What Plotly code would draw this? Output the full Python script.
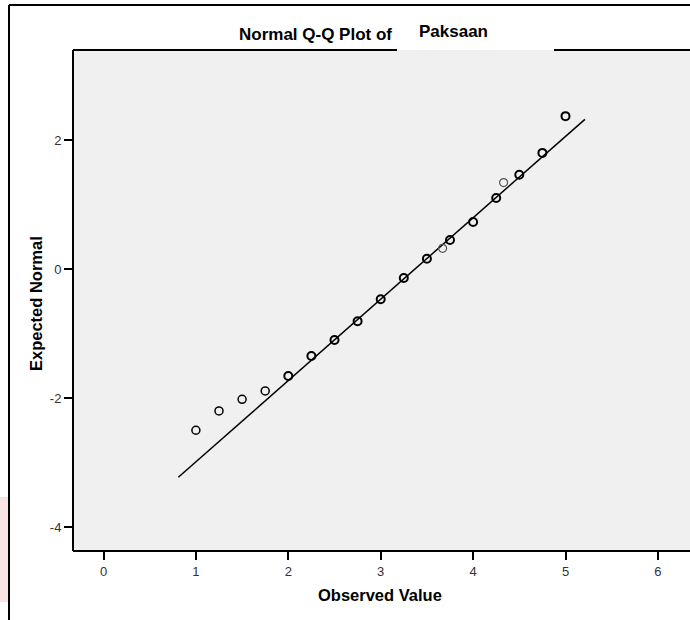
import plotly.graph_objects as go

# ---- data ----
observed = [1.00, 1.25, 1.50, 1.75, 2.00, 2.25, 2.50, 2.75, 3.00, 3.25,
            3.50, 3.67, 3.75, 4.00, 4.25, 4.33, 4.50, 4.75, 5.00]
expected = [-2.50, -2.20, -2.02, -1.89, -1.66, -1.35, -1.10, -0.81, -0.47, -0.14,
            0.16, 0.32, 0.45, 0.73, 1.10, 1.34, 1.46, 1.80, 2.37]
# how heavy each circle looks (overplotted ties look darker)
weight = [2, 2, 2, 2, 3, 3, 3, 3, 3, 3,
          3, 1, 3, 3, 3, 1, 3, 3, 3]
line_mean = 3.371
line_sd = 0.793
line_x = [0.81, 5.21]
x_ticks = [0, 1, 2, 3, 4, 5, 6]
y_ticks = [-4, -2, 0, 2]
title_text = "Normal Q-Q Plot of"
variable_name = "Paksaan"
x_title = "Observed Value"
y_title = "Expected Normal"

# ---- geometry ----
W, H = 690, 620
L, T, B = 73, 50, 551  # plot area pixel edges
R = 690
PW, PH = R - L, B - T


def px(xp):
    return (xp - L) / PW


def py(yp):
    return (B - yp) / PH


FONT = "Arial, Liberation Sans, Helvetica, sans-serif"

line_y = [(v - line_mean) / line_sd for v in line_x]
colors = ["#555555" if w == 1 else "#000000" for w in weight]
widths = [1.2 if w == 1 else (1.5 if w == 2 else 2.0) for w in weight]

fig = go.Figure()
fig.add_trace(go.Scatter(x=line_x, y=line_y, mode="lines",
                         line=dict(color="black", width=1.5),
                         hoverinfo="skip", showlegend=False))
fig.add_trace(go.Scatter(x=observed, y=expected, mode="markers",
                         marker=dict(symbol="circle-open", size=8,
                                     color=colors,
                                     line=dict(color=colors, width=widths)),
                         showlegend=False))

fig.update_layout(
    width=W, height=H,
    margin=dict(l=L, r=W - R, t=T, b=H - B, pad=0),
    paper_bgcolor="white",
    plot_bgcolor="#f0f0f0",
    font=dict(family=FONT, color="#222222"),
    xaxis=dict(range=[(L - 103.5) / 92.4, (R - 103.5) / 92.4],
               tickvals=x_ticks, ticktext=[str(v) for v in x_ticks],
               ticks="outside", ticklen=8, tickwidth=2, tickcolor="black",
               showgrid=False, zeroline=False, showline=False,
               tickfont=dict(size=13, color="#333333")),
    yaxis=dict(range=[(269 - B) / 64.5, (269 - T) / 64.5],
               tickvals=y_ticks, ticktext=[str(v) for v in y_ticks],
               ticks="outside", ticklen=8, tickwidth=2, tickcolor="black",
               showgrid=False, zeroline=False, showline=False,
               tickfont=dict(size=13, color="#333333")),
)

shapes = []
# plot border (top border interrupted behind the variable label)
bw = 2
shapes.append(dict(type="line", xref="paper", yref="paper", x0=0, x1=0, y0=0, y1=1,
                   line=dict(color="black", width=bw)))
shapes.append(dict(type="line", xref="paper", yref="paper", x0=0, x1=1, y0=0, y1=0,
                   line=dict(color="black", width=bw)))
shapes.append(dict(type="line", xref="paper", yref="paper", x0=0, x1=px(397), y0=1, y1=1,
                   line=dict(color="black", width=bw)))
shapes.append(dict(type="line", xref="paper", yref="paper", x0=px(554), x1=1, y0=1, y1=1,
                   line=dict(color="black", width=bw)))
# outer frame
shapes.append(dict(type="line", xref="paper", yref="paper", x0=px(9), x1=px(9),
                   y0=py(5), y1=py(622), line=dict(color="black", width=2)))
shapes.append(dict(type="line", xref="paper", yref="paper", x0=px(9), x1=px(692),
                   y0=py(5), y1=py(5), line=dict(color="black", width=2)))
# faint pink mark at the far left
shapes.append(dict(type="rect", xref="paper", yref="paper", x0=px(0), x1=px(8),
                   y0=py(602), y1=py(497), line=dict(width=0), fillcolor="#f8e3e5",
                   layer="below"))
fig.update_layout(shapes=shapes)

ann = [
    dict(text=f"<b>{title_text}</b>", x=px(315), y=py(34), xanchor="center", yanchor="middle",
         font=dict(size=17, color="black", family=FONT)),
    dict(text=f"<b>{variable_name}</b>", x=px(417), y=py(32), xanchor="left", yanchor="middle",
         font=dict(size=17, color="black", family=FONT)),
    dict(text=f"<b>{x_title}</b>", x=px(380), y=py(595), xanchor="center", yanchor="middle",
         font=dict(size=16.5, color="black", family=FONT)),
    dict(text=f"<b>{y_title}</b>", x=px(36), y=py(304), xanchor="center", yanchor="middle",
         textangle=-90, font=dict(size=16.5, color="black", family=FONT)),
]
for a in ann:
    a.update(xref="paper", yref="paper", showarrow=False)
fig.update_layout(annotations=ann)

fig.write_html("out.html",
               config={"displayModeBar": False},
               post_script="document.body.style.margin='0';document.body.style.overflow='hidden';")
